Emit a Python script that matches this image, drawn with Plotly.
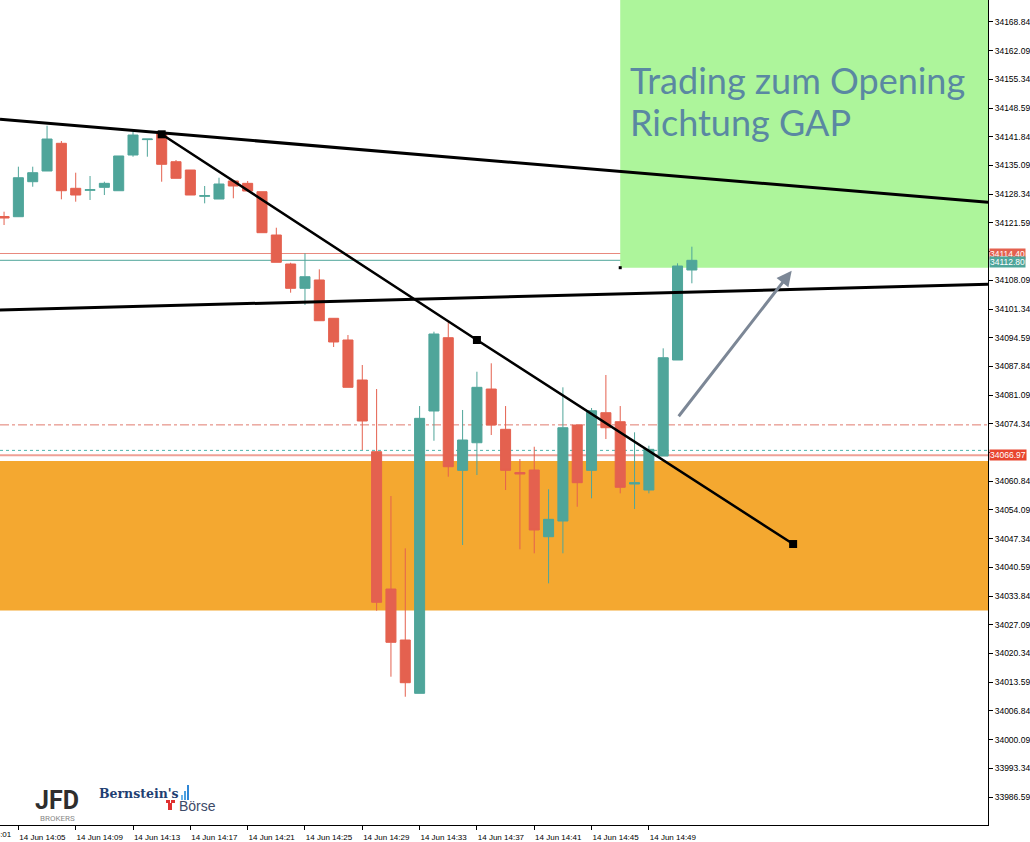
import pandas as pd
import plotly.graph_objects as go

# ---------------- data ----------------
times = pd.date_range("2023-06-14 14:04", periods=49, freq="min")

opens = [34123.10, 34123.05, 34131.28, 34133.80, 34140.31, 34129.73, 34129.26, 34129.96,
         34129.16, 34137.56, 34141.18, 34142.66, 34135.98, 34134.03, 34127.85, 34127.21,
         34131.45, 34130.90, 34128.93, 34118.75, 34111.93, 34106.21, 34108.17, 34099.16,
         34094.06, 34084.65, 34067.79, 34035.50, 34023.51, 34010.97, 34077.36, 34094.60,
         34063.41, 34069.90, 34082.53, 34073.06, 34062.90, 34063.48, 34047.80, 34051.49,
         34074.07, 34063.41, 34076.96, 34074.84, 34060.19, 34058.78, 34066.78, 34089.35,
         34110.52]
highs = [34124.23, 34134.81, 34134.81, 34144.45, 34140.85, 34133.40, 34132.62, 34131.28,
         34137.33, 34143.04, 34141.32, 34143.04, 34136.38, 34134.03, 34130.27, 34132.22,
         34131.45, 34131.45, 34128.93, 34120.46, 34112.23, 34114.44, 34110.68, 34099.20,
         34095.23, 34088.18, 34082.53, 34057.37, 34045.07, 34078.53, 34096.01, 34098.36,
         34077.60, 34086.60, 34088.58, 34078.53, 34066.07, 34068.96, 34058.95, 34082.93,
         34074.07, 34078.07, 34085.83, 34078.53, 34072.35, 34069.20, 34092.10, 34112.09,
         34116.00]
lows = [34121.10, 34122.98, 34130.10, 34133.80, 34127.14, 34126.58, 34126.98, 34128.15,
        34129.16, 34137.16, 34137.16, 34131.28, 34132.08, 34128.15, 34126.20, 34127.21,
        34127.38, 34129.09, 34119.29, 34112.33, 34105.18, 34102.29, 34098.59, 34092.41,
        34082.93, 34068.19, 34030.40, 34014.88, 34010.17, 34010.97, 34070.37, 34061.91,
        34045.85, 34062.31, 34071.72, 34058.78, 34044.84, 34043.90, 34036.84, 34043.90,
        34054.85, 34056.83, 34070.77, 34058.00, 34054.31, 34058.00, 34066.78, 34089.35,
        34107.39]
closes = [34122.74, 34132.22, 34133.40, 34141.32, 34129.16, 34128.15, 34129.40, 34130.90,
          34137.33, 34142.26, 34141.32, 34135.37, 34132.08, 34128.15, 34127.99, 34130.74,
          34130.27, 34129.09, 34119.29, 34112.33, 34106.21, 34108.94, 34098.59, 34093.59,
          34082.93, 34075.01, 34032.38, 34022.97, 34013.47, 34075.64, 34095.47, 34064.26,
          34070.54, 34082.93, 34074.07, 34063.41, 34062.54, 34049.38, 34051.89, 34073.43,
          34060.50, 34077.43, 34073.43, 34059.42, 34060.50, 34068.35, 34089.89, 34111.46,
          34112.80]

# y axis tick labels (two of them are hidden under the price labels in the reference)
y_ticks = [34168.84, 34162.09, 34155.34, 34148.59, 34141.84, 34135.09, 34128.34,
           34121.59, 34114.84, 34108.09, 34101.34, 34094.59, 34087.84, 34081.09,
           34074.34, 34067.59, 34060.84, 34054.09, 34047.34, 34040.59, 34033.84,
           34027.09, 34020.34, 34013.59, 34006.84, 34000.09, 33993.34, 33986.59]
y_hidden_ticks = [34114.84, 34067.59]
y_range = [33980.01, 34174.01]

# x axis tick labels
x_tick_times = ["2023-06-14 14:05", "2023-06-14 14:09", "2023-06-14 14:13", "2023-06-14 14:17",
                "2023-06-14 14:21", "2023-06-14 14:25", "2023-06-14 14:29", "2023-06-14 14:33",
                "2023-06-14 14:37", "2023-06-14 14:41", "2023-06-14 14:45", "2023-06-14 14:49"]
x_tick_text = ["14 Jun 14:05", "14 Jun 14:09", "14 Jun 14:13", "14 Jun 14:17",
               "14 Jun 14:21", "14 Jun 14:25", "14 Jun 14:29", "14 Jun 14:33",
               "14 Jun 14:37", "14 Jun 14:41", "14 Jun 14:45", "14 Jun 14:49"]
x_range = ["2023-06-14 14:03:43", "2023-06-14 15:12:40"]

# price levels
ask_price = 34114.40
bid_price = 34112.80
level_dashdot = 34074.10
level_dotted = 34068.10
level_solid = 34066.97
orange_zone = [34030.44, 34065.60]
green_zone_start = "2023-06-14 14:47"
green_zone_bottom = 34111.06

# trend lines (time, price)
upper_line_t = ["2023-06-14 14:03:43", "2023-06-14 15:12:40"]
upper_line_p = [34145.96, 34126.44]
lower_line_t = ["2023-06-14 14:03:43", "2023-06-14 15:12:40"]
lower_line_p = [34101.11, 34107.15]
diag_line_t = ["2023-06-14 14:15", "2023-06-14 14:37", "2023-06-14 14:59:04"]
diag_line_p = [34142.43, 34094.06, 34046.08]
arrow_start = ("2023-06-14 14:51", 34075.78)
arrow_end = ("2023-06-14 14:58:58", 34110.35)

UP = "#4FA59A"
DOWN = "#E4614F"

fig = go.Figure()

fig.add_trace(go.Candlestick(
    x=times, open=opens, high=highs, low=lows, close=closes,
    increasing=dict(line=dict(color=UP, width=1), fillcolor=UP),
    decreasing=dict(line=dict(color=DOWN, width=1), fillcolor=DOWN),
    whiskerwidth=0, showlegend=False, hoverinfo="skip",
))

# trend lines
fig.add_trace(go.Scatter(x=upper_line_t, y=upper_line_p, mode="lines",
                         line=dict(color="black", width=3), showlegend=False, hoverinfo="skip"))
fig.add_trace(go.Scatter(x=lower_line_t, y=lower_line_p, mode="lines",
                         line=dict(color="black", width=3), showlegend=False, hoverinfo="skip"))
fig.add_trace(go.Scatter(x=diag_line_t, y=diag_line_p, mode="lines+markers",
                         line=dict(color="black", width=2.5),
                         marker=dict(symbol="square", size=8, color="black"),
                         showlegend=False, hoverinfo="skip"))
fig.add_trace(go.Scatter(x=[green_zone_start], y=[green_zone_bottom], mode="markers",
                         marker=dict(symbol="square", size=3, color="black"),
                         showlegend=False, hoverinfo="skip"))

shapes = [
    # orange zone
    dict(type="rect", xref="paper", yref="y", x0=0, x1=1, y0=orange_zone[0], y1=orange_zone[1],
         fillcolor="#F4A830", line=dict(width=0), layer="below"),
    # green zone
    dict(type="rect", xref="x", yref="y", x0=green_zone_start, x1=x_range[1],
         y0=green_zone_bottom, y1=y_range[1] + 5, fillcolor="#ADF59B", line=dict(width=0),
         layer="below"),
    # levels
    dict(type="line", xref="paper", yref="y", x0=0, x1=1, y0=level_dashdot, y1=level_dashdot,
         line=dict(color="#E07A6E", width=1, dash="dashdot"), layer="below"),
    dict(type="line", xref="paper", yref="y", x0=0, x1=1, y0=level_dotted, y1=level_dotted,
         line=dict(color="#4FB3AA", width=1, dash="dot"), layer="below"),
    dict(type="line", xref="paper", yref="y", x0=0, x1=1, y0=level_solid, y1=level_solid,
         line=dict(color="rgba(228,97,79,0.6)", width=2), layer="below"),
    dict(type="line", xref="paper", yref="y", x0=0, x1=1, y0=ask_price, y1=ask_price,
         line=dict(color="#E8897E", width=1), layer="below"),
    dict(type="line", xref="paper", yref="y", x0=0, x1=1, y0=bid_price, y1=bid_price,
         line=dict(color="#4FA59A", width=1), layer="below"),
]

PW, PH = 988.0, 825.0


def px(x):
    return x / PW


def py(y):
    return 1 - y / PH


# logo icons
for (x0, y0, x1, y1, c) in [(181, 795, 183, 800, "#6DB4E8"), (184, 791, 186, 800, "#4A9FE0"),
                            (187, 785, 189, 800, "#2E86D6"),
                            (166, 800, 170, 803, "#E03030"), (171, 800, 175, 803, "#E03030"),
                            (168, 803, 172, 810, "#E03030")]:
    shapes.append(dict(type="rect", xref="paper", yref="paper", x0=px(x0), x1=px(x1),
                       y0=py(y1), y1=py(y0), fillcolor=c, line=dict(width=0)))

annotations = [
    dict(xref="paper", yref="paper", x=px(628), y=py(56), xanchor="left", yanchor="top",
         text="Trading zum Opening", showarrow=False,
         font=dict(family="Lato", size=36, color="#5A88A2")),
    dict(xref="paper", yref="paper", x=px(628), y=py(98), xanchor="left", yanchor="top",
         text="Richtung GAP", showarrow=False,
         font=dict(family="Lato", size=36, color="#5A88A2")),
    # arrow
    dict(x=arrow_end[0], y=arrow_end[1], ax=arrow_start[0], ay=arrow_start[1],
         xref="x", yref="y", axref="x", ayref="y", text="", showarrow=True,
         arrowhead=2, arrowsize=1, arrowwidth=3, arrowcolor="#7C8796"),
    # price labels
    dict(xref="paper", yref="y", x=1, y=ask_price, xanchor="left", yanchor="middle",
         text="34114.40", showarrow=False, bgcolor="#E4614F", xshift=1, borderpad=0,
         font=dict(family="Liberation Sans, Arial", size=8.5, color="white")),
    dict(xref="paper", yref="y", x=1, y=bid_price, xanchor="left", yanchor="middle",
         text="34112.80", showarrow=False, bgcolor="#4FA59A", xshift=1, yshift=-2, borderpad=0,
         font=dict(family="Liberation Sans, Arial", size=8.5, color="white")),
    dict(xref="paper", yref="y", x=1, y=level_solid, xanchor="left", yanchor="middle",
         text="34066.97", showarrow=False, bgcolor="#E8452F", xshift=1, borderpad=0,
         font=dict(family="Liberation Sans, Arial", size=8.5, color="white")),
    # cut-off first x label
    dict(xref="paper", yref="paper", x=px(-37), y=py(834), xanchor="left", yanchor="middle",
         text="14 Jun 14:01", showarrow=False,
         font=dict(family="Liberation Sans, Arial", size=8, color="black")),
    # logos
    dict(xref="paper", yref="paper", x=px(57), y=py(800), xanchor="center", yanchor="middle",
         text="<b>JFD</b>", showarrow=False,
         font=dict(family="Roboto", size=25, color="#2E2E2E")),
    dict(xref="paper", yref="paper", x=px(57), y=py(818), xanchor="center", yanchor="middle",
         text="BROKERS", showarrow=False,
         font=dict(family="Roboto", size=8, color="#8A8A8A")),
    dict(xref="paper", yref="paper", x=px(97), y=py(793), xanchor="left", yanchor="middle",
         text="<b>Bernstein's</b>", showarrow=False,
         font=dict(family="DejaVu Serif", size=12.5, color="#1F3F73")),
    dict(xref="paper", yref="paper", x=px(177), y=py(806), xanchor="left", yanchor="middle",
         text="Börse", showarrow=False,
         font=dict(family="Liberation Sans, Arial", size=14, color="#3C4A68")),
]

fig.update_layout(
    width=1030, height=842,
    margin=dict(l=0, r=42, t=0, b=17),
    paper_bgcolor="white", plot_bgcolor="white",
    boxgap=0.3, boxgroupgap=0,
    shapes=shapes, annotations=annotations,
    showlegend=False,
    xaxis=dict(type="date", range=x_range, rangeslider=dict(visible=False),
               showgrid=False, zeroline=False, showline=True, linecolor="black", linewidth=1,
               ticks="outside", ticklen=4, tickcolor="black",
               tickvals=x_tick_times, ticktext=x_tick_text, ticklabelshift=24,
               tickfont=dict(family="Liberation Sans, Arial", size=8, color="black")),
    yaxis=dict(side="right", range=y_range, showgrid=False, zeroline=False,
               showline=True, linecolor="black", linewidth=1,
               ticks="outside", ticklen=4, tickcolor="black",
               tickvals=y_ticks,
               ticktext=["" if v in y_hidden_ticks else f"{v:.2f}" for v in y_ticks],
               tickfont=dict(family="Liberation Sans, Arial", size=8.5, color="black")),
)

fig.write_html("out.html", config={"displayModeBar": False},
               post_script="document.body.style.margin='0';document.body.style.overflow='hidden';")
